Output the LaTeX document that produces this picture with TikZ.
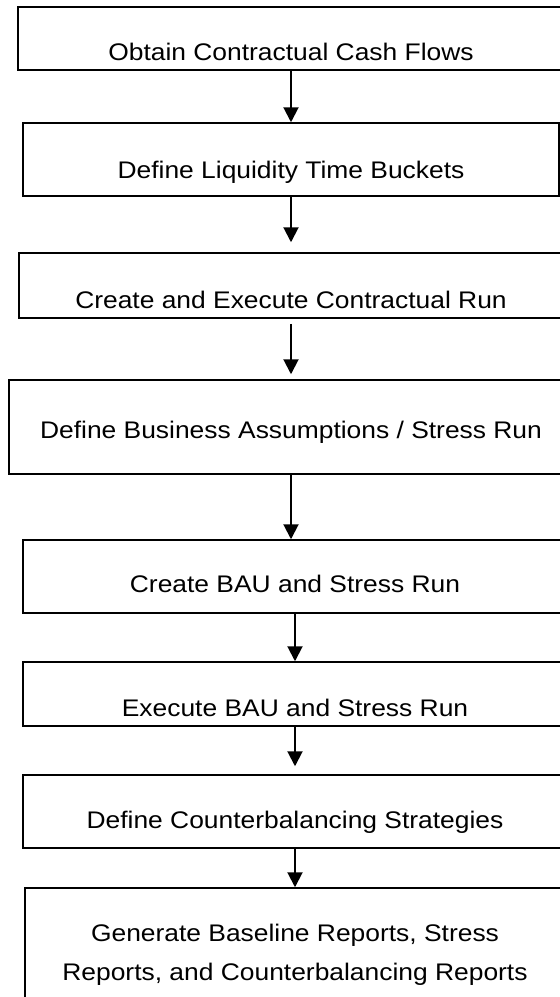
\documentclass[tikz,border=0pt]{standalone}
\usepackage{fontspec}
\setmainfont{Liberation Sans}[FakeStretch=1.1]
\usepackage{tikz}
\usetikzlibrary{arrows.meta,positioning}

\tikzset{
  stepbox/.style={draw=black, line width=1.5pt, rectangle, inner sep=0pt,
    text depth=0pt, font=\fontsize{24}{39}\selectfont, align=center},
  flow/.style={line width=2pt, -{Triangle[length=15pt,width=15pt]}}
}

\begin{document}
\begin{tikzpicture}[x=1pt,y=-1pt]
\useasboundingbox (0,0) rectangle (560,997);
\clip (0,0) rectangle (560,997);
% steps
\node[stepbox, minimum width=546pt, minimum height=63pt, text height=44.5pt] (cash) at (291,38.5) {Obtain Contractual Cash Flows};
\node[stepbox, minimum width=536pt, minimum height=73pt, text height=38.5pt] (buckets) at (291,159.5) {Define Liquidity Time Buckets};
\node[stepbox, minimum width=544pt, minimum height=65pt, text height=46.5pt] (contrun) at (291,285.5) {Create and Execute Contractual Run};
\node[stepbox, minimum width=564pt, minimum height=94pt, text height=23.5pt] (assume) at (291,427) {Define Business Assumptions / Stress Run};
\node[stepbox, minimum width=544pt, minimum height=73pt, text height=32.5pt] (baucreate) at (295,576.5) {Create BAU and Stress Run};
\node[stepbox, minimum width=544pt, minimum height=64pt, text height=45.5pt] (bauexec) at (295,694) {Execute BAU and Stress Run};
\node[stepbox, minimum width=544pt, minimum height=73pt, text height=34.5pt] (counter) at (295,811.5) {Define Counterbalancing Strategies};
\node[stepbox, minimum width=540pt, minimum height=129pt, text height=79pt, text depth=22.5pt] (reports) at (295,952.5) {Generate Baseline Reports, Stress\\Reports, and Counterbalancing Reports};

% arrows
\draw[flow] (cash.south) -- (cash.south |- buckets.north);
\draw[flow, shorten >=10pt] (buckets.south) -- (buckets.south |- contrun.north);
\draw[flow, shorten <=5pt, shorten >=5pt] (contrun.south) -- (contrun.south |- assume.north);
\draw[flow] (assume.south) -- (assume.south |- baucreate.north);
\draw[flow] (baucreate.south) -- (baucreate.south |- bauexec.north);
\draw[flow, shorten >=8pt] (bauexec.south) -- (bauexec.south |- counter.north);
\draw[flow] (counter.south) -- (counter.south |- reports.north);
\end{tikzpicture}
\end{document}
